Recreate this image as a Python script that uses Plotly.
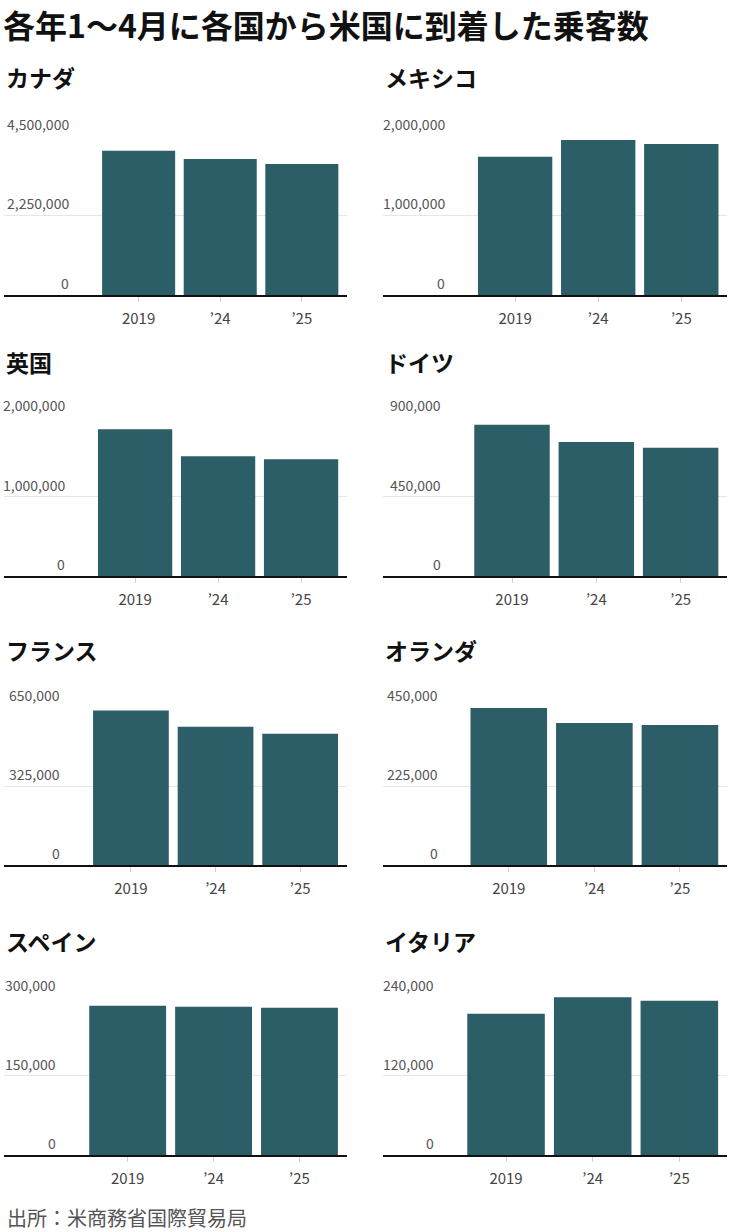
import plotly.graph_objects as go

# Data (passengers arriving in the US, Jan-Apr of each year)
years = ["2019", "’24", "’25"]
countries = ["カナダ", "メキシコ", "英国", "ドイツ", "フランス", "オランダ", "スペイン", "イタリア"]

canada = [4080000, 3850000, 3710000]
mexico = [1740000, 1950000, 1900000]
uk = [1850000, 1510000, 1470000]
germany = [858000, 760000, 728000]
france = [634000, 568000, 539000]
netherlands = [446000, 404000, 398000]
spain = [283000, 281000, 279000]
italy = [214000, 239000, 234000]

axis_max = [4500000, 2000000, 2000000, 900000, 650000, 450000, 300000, 240000]

series = [canada, mexico, uk, germany, france, netherlands, spain, italy]

# Layout in pixels
W, H = 729, 1232
col_x = [(4, 346.7), (383, 727)]
row_y = [(136, 295), (417.3, 576), (706.7, 865.3), (996.7, 1155)]
title_y = [77, 362, 650, 941]
x_lo = [-1.65, -1.59, -1.58, -1.53, -1.50, -1.47, -1.44, -1.42]
x_hi = 2.55

bar_color = "#2b5e66"
num_font = "Noto Sans CJK JP"

fig = go.Figure()
annotations = []
layout_axes = {}

for i, (name, vals) in enumerate(zip(countries, series)):
    r, c = divmod(i, 2)
    x0, x1 = col_x[c]
    yt, yb = row_y[r]
    n = str(i + 1)
    xa, ya = "x" + n, "y" + n

    fig.add_trace(go.Bar(x=years, y=vals, xaxis=xa, yaxis=ya,
                         marker=dict(color=bar_color, line=dict(width=0)),
                         showlegend=False, hoverinfo="x+y"))

    layout_axes["xaxis" + ("" if i == 0 else n)] = dict(
        domain=[x0 / W, x1 / W], anchor=ya, type="category",
        range=[x_lo[i], x_hi], showgrid=False, zeroline=False,
        showline=True, linecolor="#111", linewidth=1.5,
        ticks="outside", ticklen=5, tickcolor="#d0d0d0", tickwidth=1,
        ticklabelstandoff=4,
        tickfont=dict(family=num_font, size=15, color="#444"),
        fixedrange=True)
    top = axis_max[i]
    layout_axes["yaxis" + ("" if i == 0 else n)] = dict(
        domain=[1 - yb / H, 1 - yt / H], anchor=xa,
        range=[0, top], tickvals=[0, top / 2, top], showticklabels=False,
        showgrid=True, gridcolor="#e6e6e6", gridwidth=1, zeroline=False,
        fixedrange=True)

    for v in [0, top / 2, top]:
        annotations.append(dict(
            xref=xa, yref=ya, x=-0.4475, y=v, xanchor="right", yanchor="bottom",
            xshift=-31, yshift=0, showarrow=False, text=f"{int(v):,}",
            font=dict(family=num_font, size=14, color="#555")))

    annotations.append(dict(
        xref="paper", yref="paper", x=x0 / W, y=1 - title_y[r] / H,
        xanchor="left", yanchor="middle", showarrow=False, text=name,
        font=dict(family="Noto Sans CJK JP", size=23, color="#111", weight=700)))

annotations.append(dict(
    xref="paper", yref="paper", x=2 / W, y=1, xanchor="left",
    yanchor="top", borderpad=0, showarrow=False,
    text="各年1～4月に各国から米国に到着した乗客数",
    font=dict(family="Noto Sans CJK JP", size=32, color="#111", weight=700)))

annotations.append(dict(
    xref="paper", yref="paper", x=5 / W, y=1 - 1217 / H, xanchor="left",
    yanchor="middle", showarrow=False, text="出所：米商務省国際貿易局",
    font=dict(family="Noto Sans CJK JP", size=20, color="#555")))

fig.update_layout(width=W, height=H, margin=dict(l=0, r=0, t=0, b=0),
                  paper_bgcolor="white", plot_bgcolor="white",
                  bargap=0.105, annotations=annotations, **layout_axes)

fig.write_html("out.html", config={"displayModeBar": False},
               post_script="document.body.style.margin='0px';")
